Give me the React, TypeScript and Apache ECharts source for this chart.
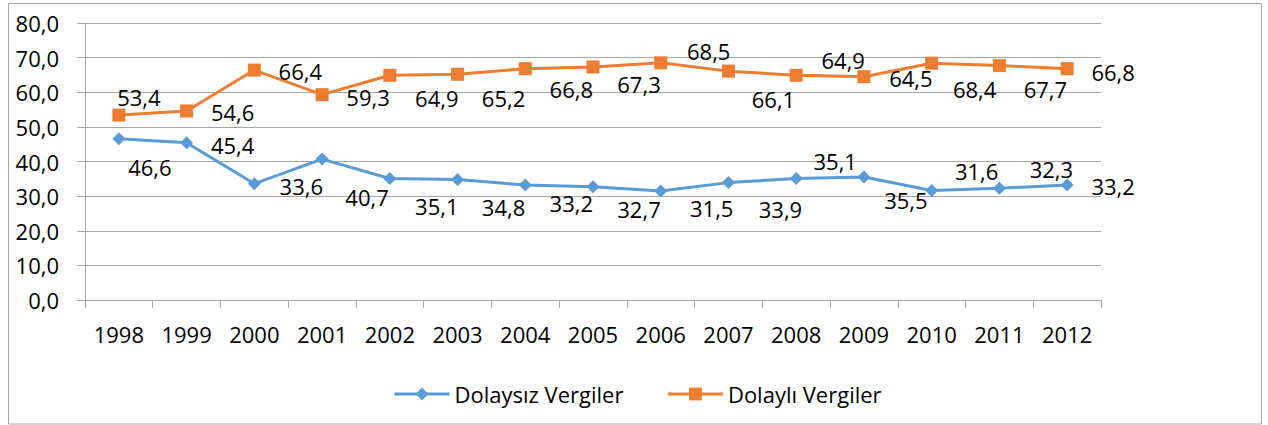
import React, { useEffect, useRef } from "react";
import * as echarts from "echarts";

const years = ["1998", "1999", "2000", "2001", "2002", "2003", "2004", "2005", "2006", "2007", "2008", "2009", "2010", "2011", "2012"];
const dolaysiz = [46.6, 45.4, 33.6, 40.7, 35.1, 34.8, 33.2, 32.7, 31.5, 33.9, 35.1, 35.5, 31.6, 32.3, 33.2];
const dolayli = [53.4, 54.6, 66.4, 59.3, 64.9, 65.2, 66.8, 67.3, 68.5, 66.1, 64.9, 64.5, 68.4, 67.7, 66.8];

// label placement offsets (layout only)
const blueLabelOffsets = [[31, 28], [46, 2], [47, 2], [45, 38], [47, 28], [46, 27], [46, 18], [46, 22], [51, 17], [52, 26], [39, -17], [42, 23], [45, -20], [52, -19], [46, 1]];
const orangeLabelOffsets = [[20, -18], [46, 1], [46, 1], [46, 2], [47, 23], [46, 24], [46, 20], [46, 17], [48, -12], [45, 28], [47, -15], [47, 1], [43, 26], [46, 23], [46, 3]];

const FONT = "'Open Sans', 'Noto Sans', sans-serif";
const fmt = (v: number) => v.toFixed(1).replace(".", ",");

export default function App() {
  const ref = useRef<HTMLDivElement>(null);
  useEffect(() => {
    if (!ref.current) return;
    const chart = echarts.init(ref.current, null, { renderer: "svg" });
    const mk = (vals: number[], offs: number[][]) =>
      vals.map((v, i) => ({ value: v, label: { offset: offs[i] } }));
    chart.setOption({
      animation: false,
      backgroundColor: "#ffffff",
      textStyle: { fontFamily: FONT },
      graphic: [
        {
          type: "rect",
          shape: { x: 8.5, y: 3.5, width: 1253, height: 420.5 },
          style: { fill: "none", stroke: "#a6a6a6", lineWidth: 1 },
          silent: true,
        },
      ],
      grid: { left: 85, top: 23, width: 1016, height: 277, containLabel: false },
      legend: {
        left: 388,
        top: 378,
        itemWidth: 55,
        itemHeight: 16,
        itemGap: 43,
        lineStyle: { width: 3 },
        textStyle: { fontFamily: FONT, fontSize: 22, color: "#000" },
        data: ["Dolaysız Vergiler", "Dolaylı Vergiler"],
      },
      xAxis: {
        type: "category",
        data: years,
        boundaryGap: true,
        axisLine: { show: true, lineStyle: { color: "#a6a6a6", width: 1 } },
        axisTick: { show: true, length: 8, alignWithLabel: false, lineStyle: { color: "#a6a6a6" } },
        axisLabel: { fontFamily: FONT, fontSize: 22, color: "#000", margin: 23 },
        splitLine: { show: false },
      },
      yAxis: {
        type: "value",
        min: 0,
        max: 80,
        interval: 10,
        axisLine: { show: true, lineStyle: { color: "#a6a6a6", width: 1 } },
        axisTick: { show: true, length: 8, lineStyle: { color: "#a6a6a6" } },
        axisLabel: { fontFamily: FONT, fontSize: 22, color: "#000", margin: 26, formatter: (v: number) => fmt(v) },
        splitLine: { show: true, lineStyle: { color: "#a6a6a6", width: 1 } },
      },
      series: [
        {
          name: "Dolaysız Vergiler",
          type: "line",
          data: mk(dolaysiz, blueLabelOffsets),
          symbol: "diamond",
          symbolSize: 13,
          itemStyle: { color: "#5b9bd5" },
          lineStyle: { color: "#5b9bd5", width: 3 },
          label: {
            show: true,
            position: "inside",
            fontFamily: FONT,
            fontSize: 22,
            color: "#000",
            formatter: (p: any) => fmt(p.value),
          },
        },
        {
          name: "Dolaylı Vergiler",
          type: "line",
          data: mk(dolayli, orangeLabelOffsets),
          symbol: "rect",
          symbolSize: 13,
          itemStyle: { color: "#ed7d31" },
          lineStyle: { color: "#ed7d31", width: 3 },
          label: {
            show: true,
            position: "inside",
            fontFamily: FONT,
            fontSize: 22,
            color: "#000",
            formatter: (p: any) => fmt(p.value),
          },
        },
      ],
    });
    return () => chart.dispose();
  }, []);
  return (
    <div
      ref={ref}
      style={{ position: "fixed", left: 0, top: 0, width: 1268, height: 425, background: "#fff" }}
    />
  );
}
